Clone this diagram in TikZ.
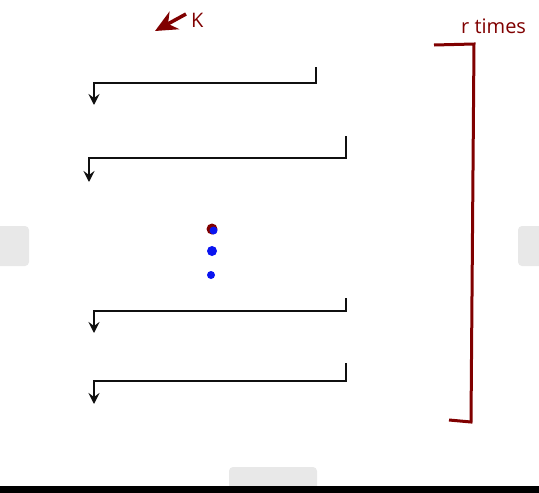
\documentclass[tikz,border=0pt]{standalone}
\usepackage{fontspec}
\setmainfont{Open Sans}
\usetikzlibrary{arrows.meta,positioning}
\definecolor{wbRed}{HTML}{800000}
\definecolor{wbBlue}{HTML}{0A14F0}
\definecolor{wbInk}{HTML}{101010}
\definecolor{wbTab}{HTML}{E8E8E8}

\begin{document}
\begin{tikzpicture}[
      x=1pt,y=-1pt,
      flow/.style={-{Stealth[length=11pt,width=11pt,inset=4pt]},draw=wbInk,line width=2.6pt},
      bracket/.style={draw=wbRed,line width=3pt},
      lbl/.style={text=wbRed,font=\fontsize{20}{23}\selectfont,inner sep=0pt},
      tab/.style={fill=wbTab,rounded corners=4pt},
      dot/.style={circle,fill=wbBlue,inner sep=0pt}
    ]
    \useasboundingbox[fill=white] (0,0) rectangle (539,493);

    % screen chrome round the board
    \fill[tab] (-5,226) rectangle (29,266);
    \fill[tab] (518,226) rectangle (545,266);
    \fill[tab] (229,467) rectangle (317,500);
    \fill[black] (0,486) rectangle (539,493);

    % the K arrow and the repeat label
    \coordinate (kfrom) at (186,14);
    \coordinate (kto)   at (155,31);
    \node[lbl,anchor=west] (k) at (191,20) {K};
    \draw[draw=wbRed,line width=3.5pt,-{Stealth[length=22pt,width=20pt]}] (kfrom) -- (kto);
    \node[lbl,anchor=west] (reps) at (461,26) {r times};

    % four rounds, drawn as bent arrows
    \coordinate (a1) at (316,67);  \coordinate (b1) at (94,83);   \coordinate (c1) at (94,105);
    \coordinate (a2) at (346,136); \coordinate (b2) at (89,158);  \coordinate (c2) at (89,182);
    \coordinate (a3) at (346,298); \coordinate (b3) at (94,311);  \coordinate (c3) at (94,333);
    \coordinate (a4) at (346,363); \coordinate (b4) at (94,381);  \coordinate (c4) at (94,404);
    \draw[flow] (a1) |- (b1) -- (c1);
    \draw[flow] (a2) |- (b2) -- (c2);
    \draw[flow] (a3) |- (b3) -- (c3);
    \draw[flow] (a4) |- (b4) -- (c4);

    % the dots between them
    \node[circle,fill=wbRed,minimum size=11pt,inner sep=0pt] (d0) at (212,229) {};
    \node[dot,minimum size=8pt] (d1) at (213.5,230.5) {};
    \node[dot,minimum size=10pt] (d2) at (212,251) {};
    \node[dot,minimum size=8pt] (d3) at (211,275) {};

    % bracket on the right
    \coordinate (t0) at (434,45);
    \coordinate (t1) at (474,44);
    \coordinate (u1) at (471,422);
    \coordinate (u0) at (449,420);
    \draw[bracket] (t0) -- (t1) -- (u1) -- (u0);
  \end{tikzpicture}
\end{document}
